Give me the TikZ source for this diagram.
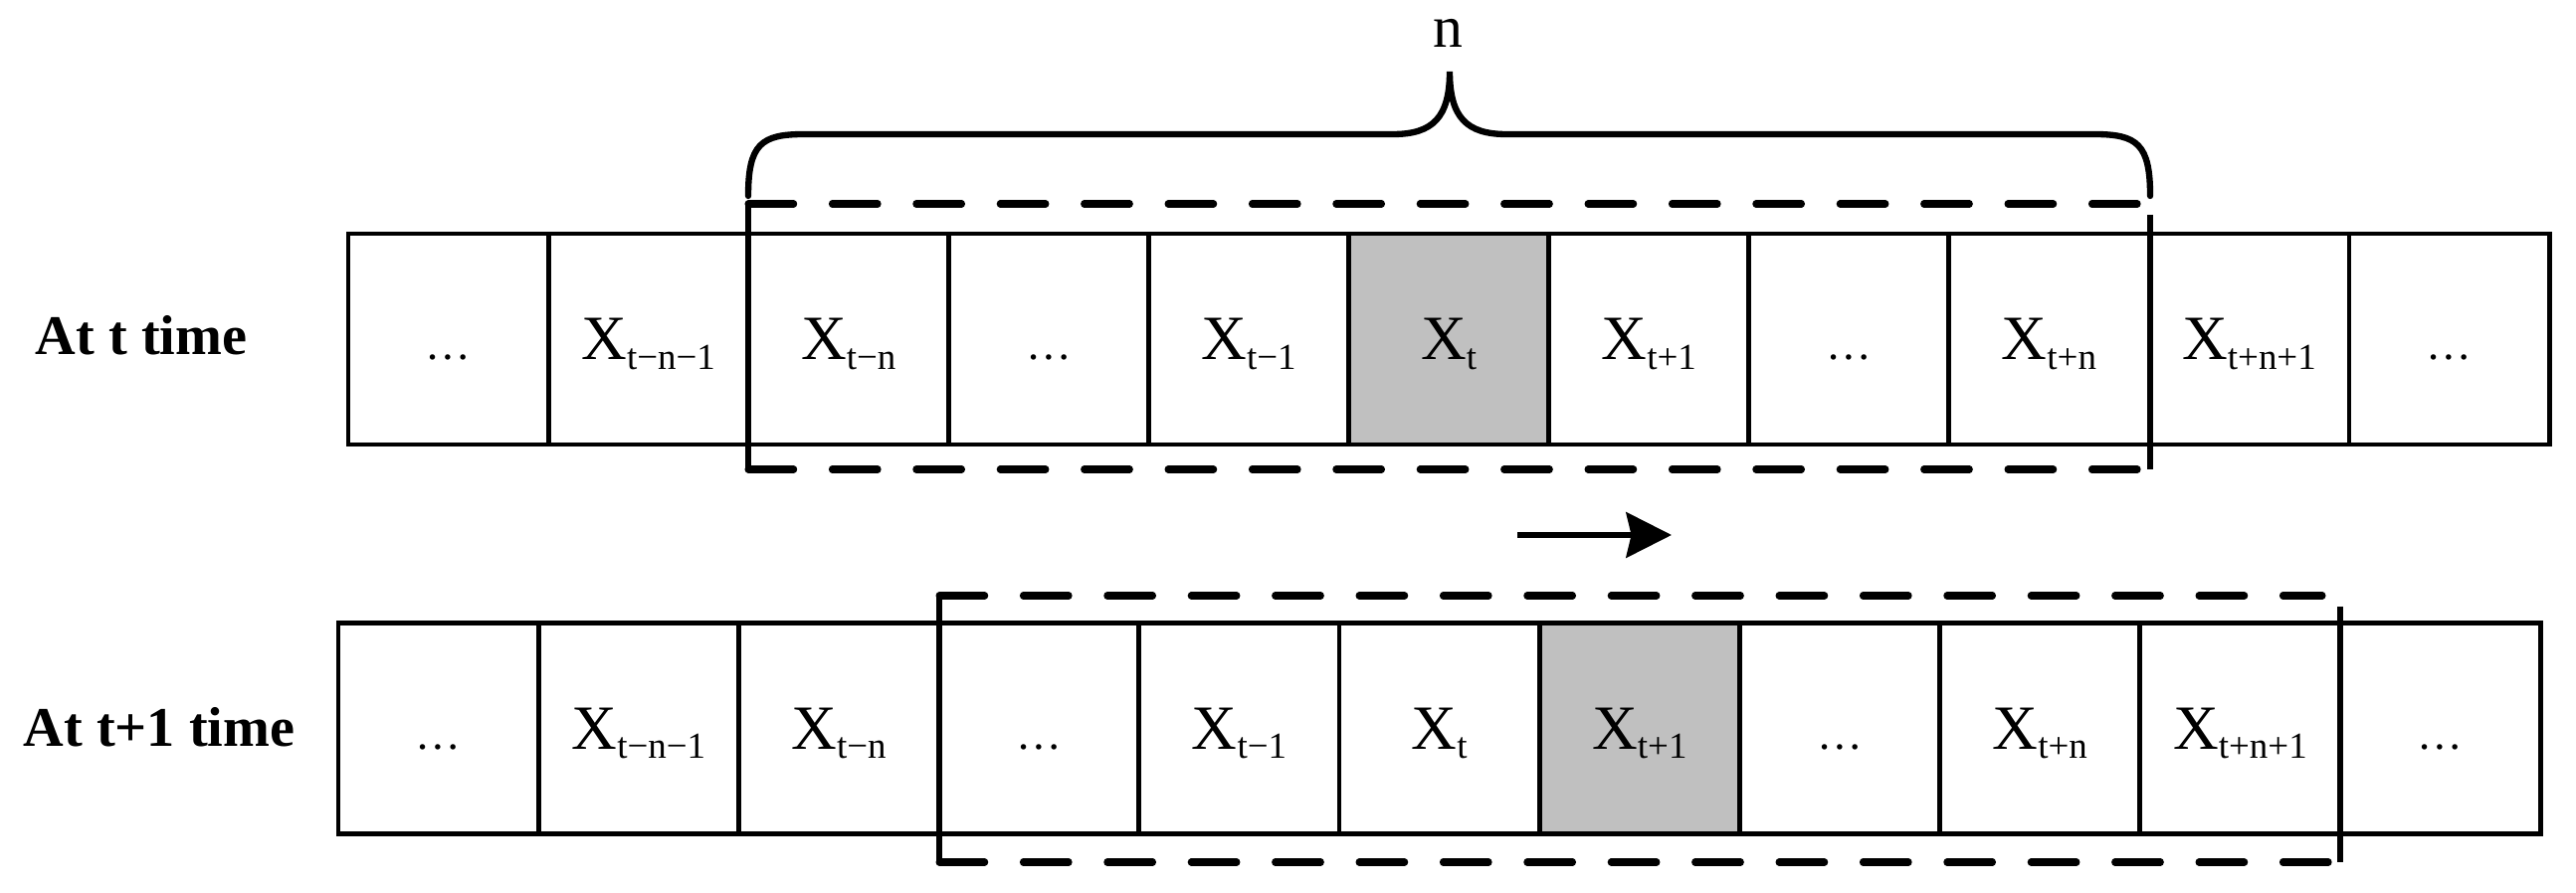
\documentclass[tikz,border=0pt]{standalone}
\usepackage{fontspec}
\setmainfont{Liberation Serif}
\usetikzlibrary{arrows.meta}
\definecolor{cellgray}{RGB}{192,192,192}
\newcommand{\xs}[1]{X\raisebox{-2.6pt}{\fontsize{10.5}{12}\selectfont #1}}
\newcommand{\dts}{{\fontsize{13}{15}\selectfont …}}
\tikzset{
  cellbox/.style={draw, line width=1.35pt, rectangle, inner sep=0pt, outer sep=0pt,
    minimum width=2.011cm, minimum height=2.12cm, text height=11.9pt, text depth=0pt,
    font=\fontsize{18}{20}\selectfont},
  hl/.style={fill=cellgray},
  dashline/.style={line width=2pt, line cap=round, dash pattern=on 13pt off 11pt},
  sideline/.style={line width=1.8pt},
  rowlabel/.style={font=\bfseries\fontsize{16}{18}\selectfont, anchor=base, inner sep=0pt},
  bracepath/.style={line width=1.8pt, line cap=round},
  shiftarrow/.style={line width=1.5pt, -{Stealth[length=13pt, width=13pt, inset=1.5pt]}}
}
\begin{document}
\begin{tikzpicture}[x=0.01cm, y=-0.01cm]
\useasboundingbox (0,0) rectangle (2589,898);
% top row
\foreach \i/\lab/\st in {1/\dts/,2/\xs{t−n−1}/,3/\xs{t−n}/,4/\dts/,5/\xs{t−1}/,6/\xs{t}/hl,7/\xs{t+1}/,8/\dts/,9/\xs{t+n}/,10/\xs{t+n+1}/,11/\dts/}{
  \node[cellbox,\st] (t\i) at ({350+100.55+(\i-1)*201.1},341) {\lab};
}
% bottom row
\foreach \i/\lab/\st in {1/\dts/,2/\xs{t−n−1}/,3/\xs{t−n}/,4/\dts/,5/\xs{t−1}/,6/\xs{t}/,7/\xs{t+1}/hl,8/\dts/,9/\xs{t+n}/,10/\xs{t+n+1}/,11/\dts/}{
  \node[cellbox,\st] (b\i) at ({340+100.6+(\i-1)*201.2},732.5) {\lab};
}
% row labels
\node[rowlabel] (lt) at (142,357) {At t time};
\node[rowlabel] (lb) at (160,750) {At t+1 time};
% top window
\coordinate (wtA) at (752,205);
\coordinate (wtB) at (2161,205);
\coordinate (wtC) at (2161,472);
\coordinate (wtD) at (752,472);
\coordinate (wtE) at (2150,205);
\coordinate (wtF) at (2161,216);
\draw[dashline] (wtA) -- (wtE);
\draw[dashline] (wtD) -- (wtC);
\draw[sideline] (wtA) -- (wtD);
\draw[sideline] (wtF) -- (wtC);
% bottom window
\coordinate (wbA) at (944,599);
\coordinate (wbB) at (2352,599);
\coordinate (wbC) at (2352,867);
\coordinate (wbD) at (944,867);
\coordinate (wbE) at (2334,599);
\coordinate (wbF) at (2352,610);
\draw[dashline] (wbA) -- (wbE);
\draw[dashline] (wbD) -- (wbC);
\draw[sideline] (wbA) -- (wbD);
\draw[sideline] (wbF) -- (wbC);
% brace
\coordinate (brL) at (752,197);
\coordinate (brR) at (2161,197);
\coordinate (brT) at (1457,72);
\draw[bracepath] (brL) .. controls (752,145) and (765,135) .. (808,135) -- (1400,135)
  .. controls (1440,135) and (1457,118) .. (brT)
  .. controls (1457,118) and (1474,135) .. (1514,135) -- (2105,135)
  .. controls (2148,135) and (2161,145) .. (brR);
\node[font=\fontsize{17}{19}\selectfont, anchor=base, inner sep=0pt] (nlab) at (1455,48) {n};
% shift arrow
\coordinate (arA) at (1525,538);
\coordinate (arB) at (1680,538);
\draw[shiftarrow] (arA) -- (arB);
\end{tikzpicture}
\end{document}
